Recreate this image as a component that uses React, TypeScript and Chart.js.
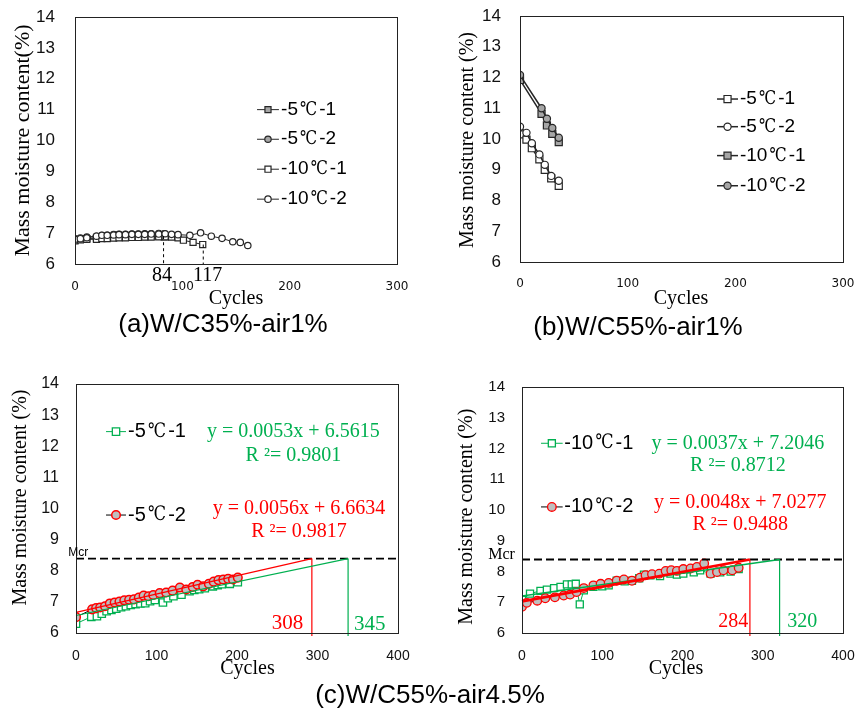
import React, { useEffect, useRef } from "react";
import { Chart, registerables } from "chart.js";
Chart.register(...registerables);

const MCR = 8.39;
const GREEN = "#00b050";
const RED = "#ff0000";
const GRAY = "#bfbfbf";
const DARK = "#262626";

// ---------- Panel (a) W/C35%-air1% ----------
const aCycles51 = [0, 5, 11, 20, 25, 30, 36, 41, 47, 53, 59, 65, 71, 78, 83];
const aMC51 = [6.78, 6.8, 6.82, 6.84, 6.85, 6.85, 6.86, 6.87, 6.88, 6.88, 6.89, 6.89, 6.9, 6.9, 6.88];
const aCycles52 = [0, 5, 11, 20, 25, 30, 36, 41, 47, 53, 59, 65, 71, 78, 83];
const aMC52 = [6.82, 6.84, 6.87, 6.9, 6.92, 6.93, 6.95, 6.96, 6.96, 6.97, 6.97, 6.98, 6.98, 6.99, 6.98];
const aCycles101 = [0, 5, 11, 20, 25, 30, 36, 41, 47, 53, 59, 65, 71, 78, 84, 90, 96, 101, 110, 119];
const aMC101 = [6.75, 6.78, 6.8, 6.8, 6.82, 6.82, 6.84, 6.85, 6.85, 6.86, 6.86, 6.87, 6.87, 6.88, 6.88, 6.87, 6.85, 6.77, 6.7, 6.63];
const aCycles102 = [0, 5, 11, 20, 25, 30, 36, 41, 47, 53, 59, 65, 71, 78, 84, 90, 96, 107, 117, 127, 137, 147, 154, 161];
const aMC102 = [6.8, 6.82, 6.85, 6.9, 6.93, 6.93, 6.94, 6.95, 6.95, 6.96, 6.96, 6.96, 6.97, 6.97, 6.98, 6.96, 6.95, 6.93, 7.01, 6.9, 6.83, 6.72, 6.7, 6.6];
const aFailCycles = [82.5, 119.5];
const aFailTop = [6.9, 6.63];
const aFailLabels = ["84", "117"];

// ---------- Panel (b) W/C55%-air1% ----------
const bCycles5 = [0, 6, 11, 18, 23, 29, 36];
const bMC51 = [10.15, 9.98, 9.7, 9.34, 9.0, 8.72, 8.48];
const bMC52 = [10.4, 10.2, 9.86, 9.5, 9.16, 8.8, 8.64];
const bCycles10 = [0, 20, 25, 30, 36];
const bMC101 = [11.92, 10.82, 10.44, 10.17, 9.9];
const bMC102 = [12.08, 11.0, 10.66, 10.36, 10.04];

// ---------- Panel (c) W/C55%-air4.5%, -5℃ ----------
const cCycles1 = [0, 19, 26, 32, 38, 44, 50, 56, 62, 68, 74, 80, 86, 92, 98, 108, 114, 121, 131, 141, 147, 153, 160, 170, 176, 181, 191, 201];
const cMC1 = [6.3, 6.52, 6.54, 6.62, 6.7, 6.74, 6.78, 6.83, 6.86, 6.9, 6.93, 6.95, 6.96, 7.02, 7.06, 6.98, 7.12, 7.18, 7.23, 7.34, 7.38, 7.41, 7.44, 7.5, 7.54, 7.57, 7.58, 7.63];
const cCycles2 = [0, 20, 25, 30, 36, 42, 48, 54, 60, 66, 72, 78, 84, 90, 96, 104, 112, 120, 129, 137, 145, 151, 158, 165, 171, 177, 183, 189, 195, 201];
const cMC2 = [6.51, 6.76, 6.8, 6.82, 6.86, 6.95, 6.98, 7.01, 7.05, 7.07, 7.08, 7.14, 7.2, 7.18, 7.22, 7.28, 7.3, 7.36, 7.46, 7.4, 7.48, 7.55, 7.5, 7.58, 7.65, 7.7, 7.72, 7.74, 7.72, 7.78];
const cFit1 = { x0: 0, y0: 6.5615, xEnd: 338 };
const cFit2 = { x0: 0, y0: 6.6634, xEnd: 293 };
const cEq1 = "y = 0.0053x + 6.5615";
const cR1 = "R ²= 0.9801";
const cEq2 = "y = 0.0056x + 6.6634";
const cR2 = "R ²= 0.9817";
const cLife = ["308", "345"];

// ---------- Panel (d) W/C55%-air4.5%, -10℃ ----------
const dCycles1 = [0, 10, 23, 31, 40, 48, 56, 62, 67, 72, 77, 89, 100, 108, 118, 128, 137, 146, 152, 160, 172, 185, 193, 201, 214, 222, 235, 247, 260, 270];
const dMC1 = [7.08, 7.28, 7.37, 7.41, 7.46, 7.5, 7.58, 7.58, 7.6, 6.93, 7.39, 7.5, 7.52, 7.55, 7.7, 7.68, 7.7, 7.78, 7.9, 7.88, 7.85, 7.93, 7.9, 7.93, 7.97, 8.04, 7.93, 7.97, 8.0, 8.08];
const dCycles2 = [0, 6, 19, 29, 41, 52, 60, 68, 77, 89, 98, 108, 118, 127, 137, 147, 154, 162, 171, 179, 186, 193, 201, 210, 218, 227, 235, 243, 251, 262, 270];
const dMC2 = [6.85, 6.98, 7.05, 7.13, 7.16, 7.22, 7.25, 7.33, 7.46, 7.55, 7.6, 7.63, 7.7, 7.74, 7.7, 7.8, 7.88, 7.91, 7.93, 8.02, 8.04, 8.02, 8.08, 8.1, 8.15, 8.26, 7.93, 7.98, 8.04, 8.04, 8.12];
const dFit1 = { x0: 0, y0: 7.2046, xEnd: 321 };
const dFit2 = { x0: 0, y0: 7.0277, xEnd: 284 };
const dEq1 = "y = 0.0037x + 7.2046";
const dR1 = "R ²= 0.8712";
const dEq2 = "y = 0.0048x + 7.0277";
const dR2 = "R ²= 0.9488";
const dLife = ["284", "320"];

const yTicksMin = 6;
const yTicksMax = 14;

const SANS = '"Liberation Sans", "Noto Sans CJK SC", sans-serif';
const SERIF = '"Liberation Serif", "Noto Sans CJK SC", serif';
const DEG = '"DejaVu Serif", "Liberation Serif", serif';
const DEJA = '"DejaVu Sans", sans-serif';

const pts = (xs: number[], ys: number[]) => xs.map((x, i) => ({ x, y: ys[i] }));

function series(label: string, xs: number[], ys: number[], o: any) {
  return {
    label,
    data: pts(xs, ys),
    borderColor: o.line,
    borderWidth: o.lw ?? 1,
    pointStyle: o.style,
    pointRadius: o.r,
    pointBackgroundColor: o.fill,
    pointBorderColor: o.stroke,
    pointBorderWidth: o.bw ?? 1.2,
    fill: false,
    tension: 0,
    order: o.order ?? 5,
  };
}

function segment(p1: { x: number; y: number }, p2: { x: number; y: number }, color: string, w: number, dash: number[] = [], order = 1) {
  return {
    label: "",
    data: [p1, p2],
    borderColor: color,
    borderWidth: w,
    borderDash: dash,
    pointRadius: 0,
    fill: false,
    clip: false,
    order,
  };
}

function drawMarker(ctx: CanvasRenderingContext2D, style: string, x: number, y: number, r: number, fill: string, stroke: string, bw: number) {
  ctx.save();
  ctx.beginPath();
  if (style === "rect") {
    const s = Math.SQRT1_2 * r;
    ctx.rect(x - s, y - s, 2 * s, 2 * s);
  } else {
    ctx.arc(x, y, r, 0, Math.PI * 2);
  }
  ctx.fillStyle = fill;
  ctx.fill();
  ctx.lineWidth = bw;
  ctx.strokeStyle = stroke;
  ctx.stroke();
  ctx.restore();
}

// draws text left-aligned; the ℃ sign is drawn wide, in a full-width cell like the original
function fillDegText(ctx: CanvasRenderingContext2D, text: string, x: number, y: number, size: number) {
  const parts = text.split("℃");
  let cx = x;
  ctx.textAlign = "left";
  parts.forEach((part, i) => {
    ctx.font = `${size}px ${SANS}`;
    ctx.fillText(part, cx, y);
    cx += ctx.measureText(part).width;
    if (i < parts.length - 1) {
      ctx.font = `${size}px ${DEG}`;
      const w = ctx.measureText("℃").width;
      const cell = 1.12 * size;
      const target = 0.9 * size;
      const sx = target / w;
      ctx.save();
      ctx.translate(cx + (cell - target) / 2, y);
      ctx.scale(sx, 1);
      ctx.fillText("℃", 0, 0);
      ctx.restore();
      cx += cell;
    }
  });
}

function makePlugin(p: any) {
  return {
    id: "panelDecor",
    afterDraw(chart: any) {
      const { ctx, chartArea: ca, scales } = chart;
      const X = (v: number) => scales.x.getPixelForValue(v);
      const Y = (v: number) => scales.y.getPixelForValue(v);
      ctx.save();
      // frame
      ctx.strokeStyle = "#222";
      ctx.lineWidth = 1;
      ctx.strokeRect(Math.round(ca.left) + 0.5, Math.round(ca.top) + 0.5, Math.round(ca.right - ca.left), Math.round(ca.bottom - ca.top));
      // axis titles
      ctx.fillStyle = "#000";
      ctx.textBaseline = "middle";
      ctx.textAlign = "center";
      ctx.font = p.xTitle.font;
      ctx.fillText(p.xTitle.text, p.xTitle.x, p.xTitle.y);
      ctx.save();
      ctx.translate(p.yTitle.x, p.yTitle.y);
      ctx.rotate(-Math.PI / 2);
      ctx.font = p.yTitle.font;
      ctx.fillText(p.yTitle.text, 0, 0);
      ctx.restore();
      // texts in data coordinates
      for (const t of p.texts) {
        ctx.font = t.font;
        ctx.fillStyle = t.color;
        ctx.textAlign = t.align || "center";
        ctx.fillText(t.text, X(t.x), Y(t.y));
      }
      // legend
      for (const l of p.legend) {
        const ds = chart.data.datasets[l.ds];
        const y = Y(l.y);
        ctx.strokeStyle = ds.borderColor;
        ctx.lineWidth = ds.borderWidth;
        ctx.beginPath();
        ctx.moveTo(X(l.x1), y);
        ctx.lineTo(X(l.x2), y);
        ctx.stroke();
        drawMarker(ctx, ds.pointStyle, X((l.x1 + l.x2) / 2), y, l.r ?? ds.pointRadius, ds.pointBackgroundColor, ds.pointBorderColor, ds.pointBorderWidth);
        ctx.fillStyle = "#000";
        fillDegText(ctx, l.label, X(l.tx), y, l.size);
      }
      ctx.restore();
    },
  };
}

function makeConfig(p: any) {
  return {
    type: "line",
    data: { datasets: p.datasets },
    options: {
      animation: false,
      responsive: false,
      maintainAspectRatio: false,
      events: [],
      layout: { padding: { left: 0, top: p.area.top, right: p.area.right, bottom: 0 } },
      plugins: { legend: { display: false }, tooltip: { enabled: false }, title: { display: false } },
      scales: {
        x: {
          type: "linear",
          min: 0,
          max: p.xMax,
          offset: false,
          grid: { display: false, drawTicks: false },
          border: { display: false },
          ticks: { stepSize: 100, padding: p.xTickPad, color: "#111", font: p.xTickFont, maxRotation: 0, autoSkip: false },
          afterFit(s: any) {
            s.height = p.area.xH;
            s.paddingLeft = 0;
            s.paddingRight = 0;
            s.paddingTop = 0;
            s.paddingBottom = 0;
          },
        },
        y: {
          type: "linear",
          min: yTicksMin,
          max: yTicksMax,
          grid: { display: false, drawTicks: false },
          border: { display: false },
          ticks: { stepSize: 1, padding: p.yTickPad, color: "#111", font: p.yTickFont },
          afterFit(s: any) {
            s.width = p.area.yW;
            s.paddingLeft = 0;
            s.paddingRight = 0;
            s.paddingTop = 0;
            s.paddingBottom = 0;
          },
        },
      },
    },
    plugins: [makePlugin(p)],
  };
}

// ---------- panel definitions ----------
const panelA = {
  box: { left: 0, top: 0, width: 428, height: 340 },
  area: { top: 17, right: 31, yW: 75, xH: 76 },
  xMax: 300,
  xTickPad: 16,
  yTickPad: 20,
  xTickFont: { family: DEJA, size: 12 },
  yTickFont: { family: '"Liberation Sans"', size: 17 },
  xTitle: { text: "Cycles", x: 236, y: 299, font: `20px ${SERIF}` },
  yTitle: { text: "Mass moisture content(%)", x: 23, y: 140.5, font: `22px ${SERIF}` },
  datasets: [
    series("-5℃-1", aCycles51, aMC51, { style: "rect", r: 4.3, fill: "#a6a6a6", stroke: DARK, line: DARK, order: 4 }),
    series("-5℃-2", aCycles52, aMC52, { style: "circle", r: 3.2, fill: "#a6a6a6", stroke: DARK, line: DARK, order: 4 }),
    series("-10℃-1", aCycles101, aMC101, { style: "rect", r: 4.3, fill: "#ffffff", stroke: DARK, line: DARK, order: 3 }),
    series("-10℃-2", aCycles102, aMC102, { style: "circle", r: 3.2, fill: "#ffffff", stroke: DARK, line: DARK, order: 2 }),
    segment({ x: aFailCycles[0], y: aFailTop[0] }, { x: aFailCycles[0], y: 6 }, "#000", 1, [3, 3], 1),
    segment({ x: aFailCycles[1], y: aFailTop[1] }, { x: aFailCycles[1], y: 6 }, "#000", 1, [3, 3], 1),
  ],
  texts: [
    { text: aFailLabels[0], x: 81, y: 5.62, font: `20px ${SERIF}`, color: "#000" },
    { text: aFailLabels[1], x: 123.5, y: 5.62, font: `20px ${SERIF}`, color: "#000" },
  ],
  legend: [
    { ds: 0, label: "-5℃-1", x1: 169.6, x2: 190, tx: 192, y: 11.0, size: 19 },
    { ds: 1, label: "-5℃-2", x1: 169.6, x2: 190, tx: 192, y: 10.04, size: 19 },
    { ds: 2, label: "-10℃-1", x1: 169.6, x2: 190, tx: 192, y: 9.07, size: 19 },
    { ds: 3, label: "-10℃-2", x1: 169.6, x2: 190, tx: 192, y: 8.1, size: 19 },
  ],
};

const panelB = {
  box: { left: 428, top: 0, width: 427, height: 340 },
  area: { top: 16, right: 12, yW: 92, xH: 78 },
  xMax: 300,
  xTickPad: 15,
  yTickPad: 19,
  xTickFont: { family: DEJA, size: 12 },
  yTickFont: { family: '"Liberation Sans"', size: 17 },
  xTitle: { text: "Cycles", x: 253, y: 299, font: `20px ${SERIF}` },
  yTitle: { text: "Mass moisture content (%)", x: 39.3, y: 140, font: `20px ${SERIF}` },
  datasets: [
    series("-5℃-1", bCycles5, bMC51, { style: "rect", r: 5, fill: "#ffffff", stroke: DARK, line: DARK, lw: 1.5, order: 3 }),
    series("-5℃-2", bCycles5, bMC52, { style: "circle", r: 3.6, fill: "#ffffff", stroke: DARK, line: DARK, lw: 1.5, order: 2 }),
    series("-10℃-1", bCycles10, bMC101, { style: "rect", r: 5, fill: "#a6a6a6", stroke: DARK, line: DARK, lw: 1.5, order: 3 }),
    series("-10℃-2", bCycles10, bMC102, { style: "circle", r: 3.6, fill: "#a6a6a6", stroke: DARK, line: DARK, lw: 1.5, order: 2 }),
  ],
  texts: [],
  legend: [
    { ds: 0, label: "-5℃-1", x1: 183, x2: 202.5, tx: 204.3, y: 11.3, size: 19 },
    { ds: 1, label: "-5℃-2", x1: 183, x2: 202.5, tx: 204.3, y: 10.4, size: 19 },
    { ds: 2, label: "-10℃-1", x1: 183, x2: 202.5, tx: 204.3, y: 9.46, size: 19 },
    { ds: 3, label: "-10℃-2", x1: 183, x2: 202.5, tx: 204.3, y: 8.48, size: 19 },
  ],
};

const eqFont = `20px ${SERIF}`;
const panelC = {
  box: { left: 0, top: 340, width: 428, height: 369 },
  area: { top: 44, right: 30, yW: 76, xH: 76 },
  xMax: 400,
  xTickPad: 15,
  yTickPad: 17,
  xTickFont: { family: '"Liberation Sans"', size: 14 },
  yTickFont: { family: '"Liberation Sans"', size: 16 },
  xTitle: { text: "Cycles", x: 247.5, y: 328.3, font: `20px ${SERIF}` },
  yTitle: { text: "Mass moisture content (%)", x: 20.7, y: 157.5, font: `20px ${SERIF}` },
  datasets: [
    series("-5℃-1", cCycles1, cMC1, { style: "rect", r: 5.2, fill: "#ffffff", stroke: GREEN, line: GREEN, bw: 1.3, order: 6 }),
    series("-5℃-2", cCycles2, cMC2, { style: "circle", r: 4.3, fill: GRAY, stroke: RED, line: "#000", bw: 1.5, order: 5 }),
    segment({ x: 0, y: MCR }, { x: 400, y: MCR }, "#000", 1.8, [8, 4], 2),
    segment({ x: cFit2.x0, y: cFit2.y0 }, { x: cFit2.xEnd, y: MCR }, RED, 1.2, [], 1),
    segment({ x: cFit1.x0, y: cFit1.y0 }, { x: cFit1.xEnd, y: MCR }, GREEN, 1.2, [], 1),
    segment({ x: cFit2.xEnd, y: MCR }, { x: cFit2.xEnd, y: 5.9 }, RED, 1.2, [], 1),
    segment({ x: cFit1.xEnd, y: MCR }, { x: cFit1.xEnd, y: 5.9 }, GREEN, 1.2, [], 1),
  ],
  texts: [
    { text: cEq1, x: 270, y: 12.47, font: eqFont, color: GREEN },
    { text: cR1, x: 270, y: 11.69, font: eqFont, color: GREEN },
    { text: cEq2, x: 277, y: 9.98, font: eqFont, color: RED },
    { text: cR2, x: 277, y: 9.25, font: eqFont, color: RED },
    { text: cLife[0], x: 282.4, y: 6.31, font: `21px ${SERIF}`, color: RED, align: "right" },
    { text: cLife[1], x: 345.3, y: 6.26, font: `21px ${SERIF}`, color: GREEN, align: "left" },
    { text: "Mcr", x: -9.6, y: 8.58, font: `12px ${SANS}`, color: "#000", align: "left" },
  ],
  legend: [
    { ds: 0, label: "-5℃-1", x1: 37.3, x2: 62.1, tx: 64.6, y: 12.47, size: 20 },
    { ds: 1, label: "-5℃-2", x1: 37.3, x2: 62.1, tx: 64.6, y: 9.79, size: 20 },
  ],
};

const panelD = {
  box: { left: 428, top: 340, width: 427, height: 369 },
  area: { top: 47, right: 12, yW: 94, xH: 76 },
  xMax: 400,
  xTickPad: 15,
  yTickPad: 17,
  xTickFont: { family: '"Liberation Sans"', size: 14 },
  yTickFont: { family: '"Liberation Sans"', size: 15 },
  xTitle: { text: "Cycles", x: 248, y: 328.3, font: `20px ${SERIF}` },
  yTitle: { text: "Mass moisture content (%)", x: 38.7, y: 176.7, font: `20px ${SERIF}` },
  datasets: [
    series("-10℃-1", dCycles1, dMC1, { style: "rect", r: 5, fill: "#ffffff", stroke: GREEN, line: GREEN, bw: 1.3, order: 6 }),
    series("-10℃-2", dCycles2, dMC2, { style: "circle", r: 4.3, fill: GRAY, stroke: RED, line: "#000", bw: 1.3, order: 5 }),
    segment({ x: 0, y: MCR }, { x: 400, y: MCR }, "#000", 1.8, [8, 4], 2),
    segment({ x: dFit1.x0, y: dFit1.y0 }, { x: dFit1.xEnd, y: MCR }, GREEN, 1.5, [], 1),
    segment({ x: dFit2.x0, y: dFit2.y0 }, { x: dFit2.xEnd, y: MCR }, RED, 2.6, [], 0),
    segment({ x: dFit2.xEnd, y: MCR }, { x: dFit2.xEnd, y: 5.9 }, RED, 1.2, [], 1),
    segment({ x: dFit1.xEnd, y: MCR }, { x: dFit1.xEnd, y: 5.9 }, GREEN, 1.2, [], 1),
  ],
  texts: [
    { text: dEq1, x: 269, y: 12.17, font: eqFont, color: GREEN },
    { text: dR1, x: 269, y: 11.43, font: eqFont, color: GREEN },
    { text: dEq2, x: 272, y: 10.24, font: eqFont, color: RED },
    { text: dR2, x: 272, y: 9.51, font: eqFont, color: RED },
    { text: dLife[0], x: 282, y: 6.35, font: `20px ${SERIF}`, color: RED, align: "right" },
    { text: dLife[1], x: 330.6, y: 6.37, font: `20px ${SERIF}`, color: GREEN, align: "left" },
    { text: "Mcr", x: -42, y: 8.54, font: `16px ${SERIF}`, color: "#000", align: "left" },
  ],
  legend: [
    { ds: 0, label: "-10℃-1", x1: 23.7, x2: 50.7, tx: 52.7, y: 12.17, size: 20 },
    { ds: 1, label: "-10℃-2", x1: 23.7, x2: 50.7, tx: 52.7, y: 10.1, size: 20 },
  ],
};

function Panel({ p }: { p: any }) {
  const ref = useRef<HTMLCanvasElement | null>(null);
  useEffect(() => {
    if (!ref.current) return;
    const chart = new Chart(ref.current, makeConfig(p) as any);
    return () => chart.destroy();
  }, [p]);
  return (
    <canvas
      ref={ref}
      width={p.box.width}
      height={p.box.height}
      style={{ position: "absolute", left: p.box.left, top: p.box.top, width: p.box.width, height: p.box.height }}
    />
  );
}

const captions = [
  { text: "(a)W/C35%-air1%", cx: 223, cy: 323 },
  { text: "(b)W/C55%-air1%", cx: 638, cy: 325.7 },
  { text: "(c)W/C55%-air4.5%", cx: 430, cy: 694 },
];

export default function App() {
  return (
    <div style={{ position: "absolute", left: 0, top: 0, width: 855, height: 709, background: "#fff", overflow: "hidden" }}>
      <Panel p={panelA} />
      <Panel p={panelB} />
      <Panel p={panelC} />
      <Panel p={panelD} />
      {captions.map((c) => (
        <div
          key={c.text}
          style={{
            position: "absolute",
            left: c.cx - 200,
            top: c.cy - 13,
            width: 400,
            textAlign: "center",
            font: `26px "Liberation Sans", Arial, sans-serif`,
            lineHeight: "26px",
            color: "#000",
            whiteSpace: "nowrap",
          }}
        >
          {c.text}
        </div>
      ))}
    </div>
  );
}
